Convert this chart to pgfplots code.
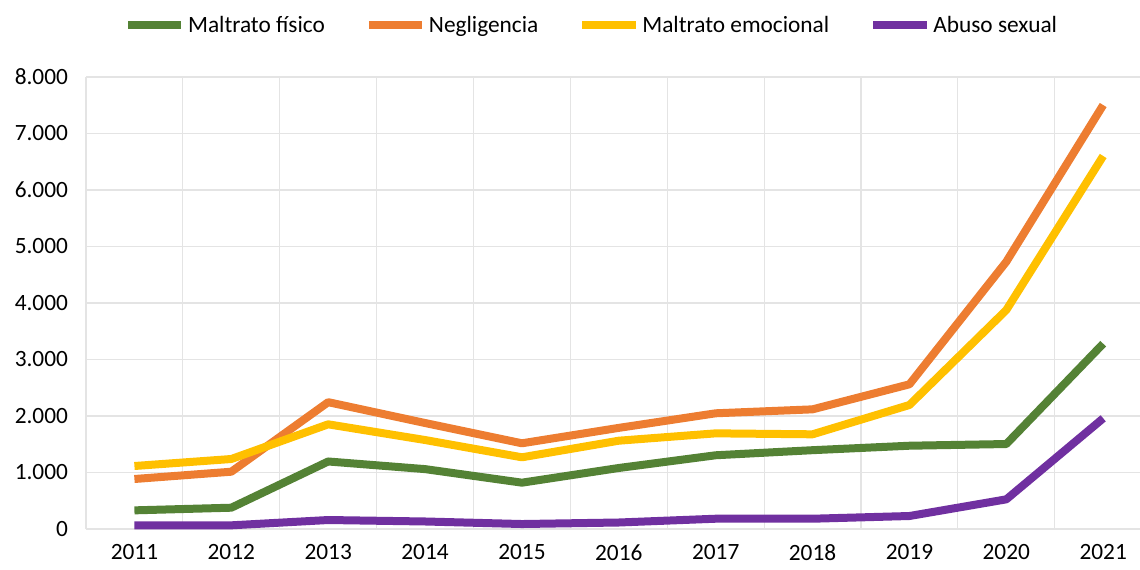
\documentclass[border=0pt]{standalone}
\usepackage{pgfplots}
\pgfplotsset{compat=1.18}
\usepackage{fontspec}
\setmainfont{Carlito}
\definecolor{cgreen}{HTML}{548235}
\definecolor{corange}{HTML}{ED7D31}
\definecolor{cyellow}{HTML}{FFC000}
\definecolor{cpurple}{HTML}{7030A0}
\definecolor{cgrid}{HTML}{E4E4E4}
\begin{document}
\begin{tikzpicture}
\begin{axis}[
  at={(0,0)}, anchor=south west,
  scale only axis,
  width=790.5pt, height=339pt,
  xmin=-0.5, xmax=10.38,
  ymin=0, ymax=8000,
  axis lines*=left,
  axis line style={draw=cgrid, line width=0.8pt, -},
  xtick={0,1,2,3,4,5,6,7,8,9,10},
  xticklabels={2011,2012,2013,2014,2015,2016,2017,2018,2019,2020,2021},
  minor xtick={0.5,1.5,2.5,3.5,4.5,5.5,6.5,7.5,8.5,9.5},
  xminorgrids=true,
  ytick={0,1000,2000,3000,4000,5000,6000,7000,8000},
  ymajorgrids=true,
  grid style={draw=cgrid, line width=0.8pt},
  minor grid style={draw=cgrid, line width=0.8pt},
  major tick length=0pt, minor tick length=0pt,
  scaled y ticks=false,
  /pgf/number format/.cd, 1000 sep={.}, assume math mode=true,
  /pgfplots/.cd,
  tick label style={font=\fontsize{17.5pt}{19pt}\selectfont, text=black},
  yticklabel style={xshift=-10pt},
  xticklabel style={yshift=-8pt},
  legend columns=4,
  legend style={at={(0.48,1.115)}, anchor=center, draw=none, fill=none,
    font=\fontsize{17.5pt}{19pt}\selectfont,
    /tikz/every even column/.append style={column sep=28pt}},
  legend image code/.code={\draw[#1, line width=6pt] (0pt,0pt) -- (40pt,0pt);},
  every axis plot/.append style={line width=6pt, mark=none, line join=round},
]
\addplot[cgreen] coordinates {(0,330) (1,377) (2,1195) (3,1060) (4,820) (5,1080) (6,1305) (7,1395) (8,1474) (9,1504) (10,3280)};
\addlegendentry{Maltrato físico}
\addplot[corange] coordinates {(0,885) (1,1014) (2,2245) (3,1876) (4,1517) (5,1790) (6,2048) (7,2118) (8,2561) (9,4731) (10,7504)};
\addlegendentry{Negligencia}
\addplot[cyellow] coordinates {(0,1115) (1,1239) (2,1853) (3,1575) (4,1269) (5,1563) (6,1693) (7,1676) (8,2195) (9,3876) (10,6602)};
\addlegendentry{Maltrato emocional}
\addplot[cpurple] coordinates {(0,65) (1,65) (2,159) (3,133) (4,88) (5,115) (6,182) (7,182) (8,230) (9,525) (10,1959)};
\addlegendentry{Abuso sexual}
\end{axis}
\pgfresetboundingbox
\path (-64.5pt,-30pt) rectangle (790.5pt,396.75pt);
\end{tikzpicture}
\end{document}
